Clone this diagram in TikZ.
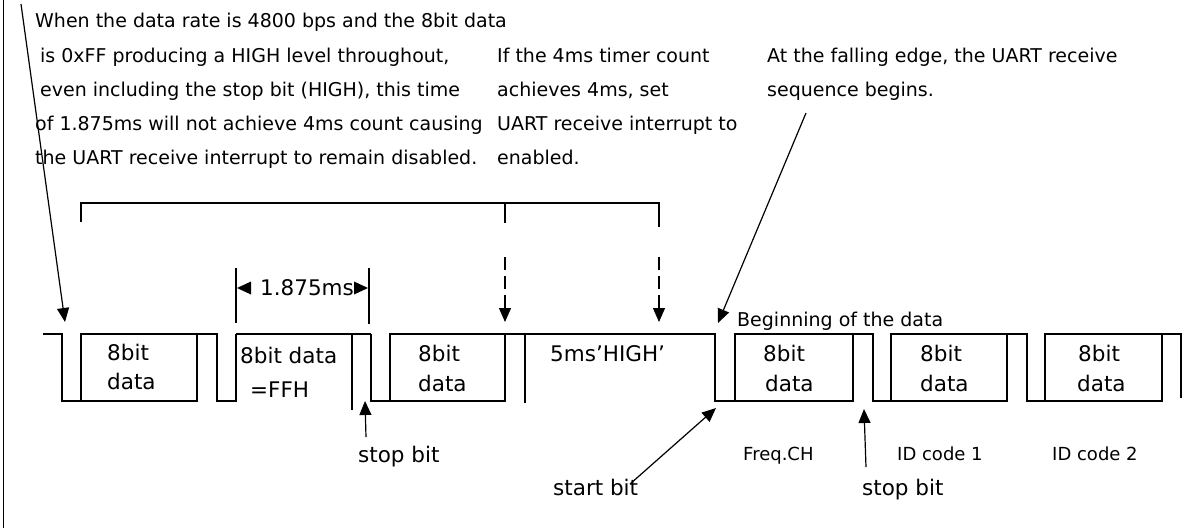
\documentclass[tikz,border=0pt]{standalone}
\usepackage{fontspec}
\setmainfont{DejaVu Sans}
\usetikzlibrary{arrows.meta}
\newcommand{\fsz}[1]{\fontsize{#1}{#1}\selectfont}
\begin{document}
\begin{tikzpicture}[x=1pt,y=-1pt,
  wave/.style={line width=1.5pt},
  thin/.style={line width=1.2pt},
  txt/.style={inner sep=0pt,anchor=base west,font=\fsz{19}},
  lbl/.style={inner sep=0pt,anchor=base west,font=\fsz{21.5}},
  small/.style={inner sep=0pt,anchor=base west,font=\fsz{18}},
  tip/.style={-{Triangle[length=14pt,width=12pt]}},
  dashtip/.style={-{Triangle[length=14pt,width=12pt]},dash pattern=on 13pt off 6pt}
]
\useasboundingbox (0,0) rectangle (1184,528);
\draw[line width=1pt] (3,0) -- (3,528);

% notes
\node[txt] (n1a) at (35,27) {When the data rate is 4800 bps and the 8bit data};
\node[txt] (n1b) at (40,62) {is 0xFF producing a HIGH level throughout,};
\node[txt] (n1c) at (40,96) {even including the stop bit (HIGH), this time};
\node[txt] (n1d) at (35,130) {of 1.875ms will not achieve 4ms count causing};
\node[txt] (n1e) at (35,164) {the UART receive interrupt to remain disabled.};
\node[txt] (n2a) at (497,62) {If the 4ms timer count};
\node[txt] (n2b) at (497,96) {achieves 4ms, set};
\node[txt] (n2c) at (497,130) {UART receive interrupt to};
\node[txt] (n2d) at (497,164) {enabled.};
\node[txt] (n3a) at (767,62) {At the falling edge, the UART receive};
\node[txt] (n3b) at (767,96) {sequence begins.};

% timing brackets
\draw[thin] (81,222) -- (81,203) -- (659,203) -- (659,227);
\draw[thin] (505,203) -- (505,223);
\coordinate (d1s) at (505,257); \coordinate (d1e) at (505,322);
\coordinate (d2s) at (659,257); \coordinate (d2e) at (659,322);
\draw[thin,dashtip] (d1s) -- (d1e);
\draw[thin,dashtip] (d2s) -- (d2e);

% 1.875ms dimension
\draw[thin] (236,268) -- (236,323);
\draw[thin] (369,268) -- (369,324);
\fill (237,288) -- (251,281.5) -- (251,294.5) -- cycle;
\fill (368,288) -- (354,281.5) -- (354,294.5) -- cycle;
\node[inner sep=0pt,font=\fsz{21.5}] (dim) at (307,288) {1.875ms};

% waveform: each frame = start bit (low), data box, stop bit (high)
\begin{scope}[wave]
% frame 1
\draw (43,334) -- (62,334) -- (62,401) -- (81,401);
\draw (81,334) rectangle (197,401);
\draw (197,334) -- (217,334) -- (217,401) -- (236,401) -- (236,334);
% frame 2 (FFH, stays high)
\draw (236,334) -- (371,334);
\draw (352,334) -- (352,410);
\draw (371,334) -- (371,401) -- (390,401);
% frame 3
\draw (390,334) rectangle (505,401);
\draw (505,334) -- (715,334) -- (715,401) -- (735,401);
\draw (525,334) -- (525,403);
% frame 4
\draw (735,334) rectangle (853,401);
\draw (853,334) -- (873,334) -- (873,401) -- (891,401);
% frame 5
\draw (891,334) rectangle (1007,401);
\draw (1007,334) -- (1027,334) -- (1027,401) -- (1045,401);
% frame 6
\draw (1045,334) rectangle (1162,401);
\draw (1162,334) -- (1181,334) -- (1181,398);
\end{scope}

% frame texts
\node[lbl] (f1a) at (107,360) {8bit};
\node[lbl] (f1b) at (107,389) {data};
\node[lbl] (f2a) at (240,363) {8bit data};
\node[lbl] (f2b) at (250,397) {=FFH};
\node[lbl] (f3a) at (418,361) {8bit};
\node[lbl] (f3b) at (418,391) {data};
\node[lbl] (hi) at (550,361) {5ms’HIGH’};
\node[lbl] (f4a) at (763,361) {8bit};
\node[lbl] (f4b) at (765,391) {data};
\node[lbl] (f5a) at (920,361) {8bit};
\node[lbl] (f5b) at (920,391) {data};
\node[lbl] (f6a) at (1078,361) {8bit};
\node[lbl] (f6b) at (1077,391) {data};
\node[txt] (beg) at (737,326) {Beginning of the data};

% lower labels
\node[small] (fch) at (743,460) {Freq.CH};
\node[small] (id1) at (897,460) {ID code 1};
\node[small] (id2) at (1052,460) {ID code 2};
\node[lbl] (sb1) at (358,462) {stop bit};
\node[lbl] (stb) at (553,495) {start bit};
\node[lbl] (sb2) at (862,495) {stop bit};

% pointers
\coordinate (a1s) at (21,4); \coordinate (a1e) at (65,322);
\draw[thin,tip] (a1s) -- (a1e);
\coordinate (a2s) at (806,113); \coordinate (a2e) at (718,323);
\draw[thin,tip] (a2s) -- (a2e);
\coordinate (a3e) at (365,401);
\draw[thin,tip] (366,437) -- (a3e);
\coordinate (a4s) at (630,484); \coordinate (a4e) at (716,408);
\draw[thin,tip] (a4s) -- (a4e);
\coordinate (a5e) at (864,409);
\draw[thin,tip] (866,467) -- (a5e);
\end{tikzpicture}
\end{document}
